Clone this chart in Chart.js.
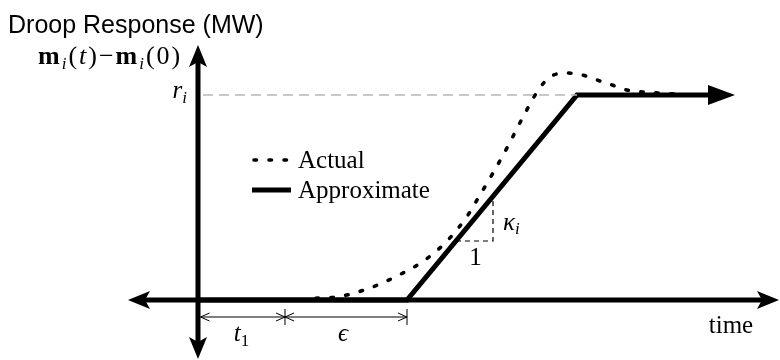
<!DOCTYPE html>
<html>
<head>
<meta charset="utf-8">
<script src="https://cdn.jsdelivr.net/npm/chart.js@4/dist/chart.umd.min.js"></script>
<style>
    html, body { margin: 0; padding: 0; background: #fff; }
    canvas { display: block; }
</style>
</head>
<body>
<canvas id="chart" width="780" height="360"></canvas>
<script>
// 實際下垂響應（虛線）
let actualX = [10.3, 12.2, 13.9, 16.9, 19.9, 22.7, 25.0, 27.0, 27.9, 29.5, 31.0, 32.5, 34.1, 35.2, 36.8, 38.4, 39.9, 41.4, 42.9, 44.5, 46.0, 47.7, 49.2];
let actualY = [0, 0.2, 0.3, 1.1, 2.4, 4.0, 6.0, 8.5, 10.0, 12.7, 15.4, 18.3, 21.1, 22.3, 22.7, 22.5, 22.0, 21.5, 21.0, 20.8, 20.7, 20.6, 20.5];

// 近似響應（折線）
let approxX = [0, 20.9, 37.9, 51.0];
let approxY = [0, 0, 20.5, 20.5];
let approxTip = 53.7;

// 參考值 r_i
let rLevel = 20.5;
let rLineX = [0.5, 37.9];

// 斜率三角形
let slopeX = [25.8, 29.5, 29.5];
let slopeY = [5.9, 5.9, 10.4];

// 時間區間 t1、ϵ
let spanEdges = [0, 8.7, 20.9];

// 座標軸範圍
let axisX = [-7.0, 58.1];
let axisY = [-5.9, 25.5];

const serif = '"Liberation Serif", "DejaVu Serif", serif';
const sans = '"Liberation Sans", Arial, sans-serif';

const toPoints = (xs, ys) => xs.map((x, i) => ({ x: x, y: ys[i] }));

// 畫一段含上下標的文字，parts: [文字, 字型, 垂直位移]
const drawRich = (ctx, parts, x, y, align, gap) => {
    gap = gap || 0;
    let widths = parts.map(p => {
        ctx.font = p[1];
        return ctx.measureText(p[0]).width;
    });
    let total = widths.reduce((a, b) => a + b, 0) + gap * (parts.length - 1);
    let cx = x;
    if (align == 'center') {
        cx = x - total / 2;
    } else if (align == 'right') {
        cx = x - total;
    }
    ctx.textAlign = 'left';
    ctx.textBaseline = 'alphabetic';
    parts.forEach((p, i) => {
        ctx.font = p[1];
        ctx.fillText(p[0], cx, y + (p[2] || 0));
        cx += widths[i] + gap;
    });
};

// 實心箭頭
const solidHead = (ctx, tx, ty, dx, dy, len, half, notch) => {
    let bx = tx - dx * len, by = ty - dy * len;
    let nx = -dy, ny = dx;
    ctx.beginPath();
    ctx.moveTo(tx, ty);
    ctx.lineTo(bx + nx * half, by + ny * half);
    ctx.lineTo(tx - dx * (len - notch), ty - dy * (len - notch));
    ctx.lineTo(bx - nx * half, by - ny * half);
    ctx.closePath();
    ctx.fill();
};

// 空心（開口）箭頭
const openHead = (ctx, tx, ty, dx, len, half) => {
    ctx.beginPath();
    ctx.moveTo(tx - dx * len, ty - half);
    ctx.lineTo(tx, ty);
    ctx.lineTo(tx - dx * len, ty + half);
    ctx.stroke();
};

const sketchPlugin = {
    id: 'sketch',
    beforeDatasetsDraw: (chart) => {
        let ctx = chart.ctx;
        let x = chart.scales.x, y = chart.scales.y;
        let x0 = x.getPixelForValue(0), y0 = y.getPixelForValue(0);
        let left = x.getPixelForValue(axisX[0]), right = x.getPixelForValue(axisX[1]);
        let top = y.getPixelForValue(axisY[1]), bottom = y.getPixelForValue(axisY[0]);
        ctx.save();
        ctx.strokeStyle = '#000';
        ctx.fillStyle = '#000';
        ctx.lineWidth = 5;
        ctx.lineCap = 'butt';
        ctx.beginPath();
        ctx.moveTo(left + 15, y0);
        ctx.lineTo(right - 15, y0);
        ctx.moveTo(x0, top + 15);
        ctx.lineTo(x0, bottom - 15);
        ctx.stroke();
        solidHead(ctx, left, y0, -1, 0, 22, 9, 5);
        solidHead(ctx, right, y0, 1, 0, 22, 9, 5);
        solidHead(ctx, x0, top, 0, -1, 22, 9, 5);
        solidHead(ctx, x0, bottom, 0, 1, 22, 9, 5);
        ctx.restore();
    },
    afterDatasetsDraw: (chart) => {
        let ctx = chart.ctx;
        let x = chart.scales.x, y = chart.scales.y;
        ctx.save();
        ctx.fillStyle = '#000';
        ctx.strokeStyle = '#000';

        // 近似線末端箭頭
        let last = approxX.length - 1;
        solidHead(ctx, x.getPixelForValue(approxTip), y.getPixelForValue(approxY[last]), 1, 0,
            x.getPixelForValue(approxTip) - x.getPixelForValue(approxX[last]), 10, 0);

        // 時間區間標示
        let dimY = y.getPixelForValue(0) + 17;
        ctx.lineWidth = 1;
        for (let i = 0; i < spanEdges.length - 1; i++) {
            let a = x.getPixelForValue(spanEdges[i]) + 2.5;
            let b = x.getPixelForValue(spanEdges[i + 1]);
            if (i > 0) {
                a = x.getPixelForValue(spanEdges[i]);
            }
            ctx.beginPath();
            ctx.moveTo(a, dimY);
            ctx.lineTo(b, dimY);
            ctx.stroke();
            openHead(ctx, a, dimY, -1, 9, 4);
            openHead(ctx, b, dimY, 1, 9, 4);
        }
        for (let i = 1; i < spanEdges.length; i++) {
            let p = x.getPixelForValue(spanEdges[i]);
            ctx.beginPath();
            ctx.moveTo(p, dimY - 8);
            ctx.lineTo(p, dimY + 8);
            ctx.stroke();
        }

        let mid1 = (x.getPixelForValue(spanEdges[0]) + x.getPixelForValue(spanEdges[1])) / 2;
        let mid2 = (x.getPixelForValue(spanEdges[1]) + x.getPixelForValue(spanEdges[2])) / 2;
        drawRich(ctx, [['t', 'italic 25px ' + serif], ['1', '17px ' + serif, 5]], mid1, dimY + 24, 'center');
        drawRich(ctx, [['ϵ', 'italic 25px ' + serif]], mid2 - 3, dimY + 24, 'center');

        // 斜率三角形標籤
        let triMid = (x.getPixelForValue(slopeX[0]) + x.getPixelForValue(slopeX[1])) / 2;
        let triBase = y.getPixelForValue(slopeY[0]);
        drawRich(ctx, [['1', '25px ' + serif]], triMid + 1, triBase + 24, 'center');
        let vMid = (y.getPixelForValue(slopeY[1]) + y.getPixelForValue(slopeY[2])) / 2;
        drawRich(ctx, [['κ', 'italic 25px ' + serif], ['i', 'italic 17px ' + serif, 4]],
            x.getPixelForValue(slopeX[1]) + 10, vMid + 11, 'left');

        // r_i
        drawRich(ctx, [['r', 'italic 25px ' + serif], ['i', 'italic 17px ' + serif, 5]],
            x.getPixelForValue(0) - 11, y.getPixelForValue(rLevel) + 3, 'right');

        // 座標軸標題
        drawRich(ctx, [['Droop Response (MW)', '25px ' + sans]], 8, 33, 'left');
        let bold = 'bold 26px ' + serif, up = '26px ' + serif, it = 'italic 26px ' + serif, sub = 'italic 17px ' + serif;
        drawRich(ctx, [['m', bold], ['i', sub, 5], ['(', up], ['t', it], [')', up], ['−', up],
            ['m', bold], ['i', sub, 5], ['(', up], ['0', up], [')', up]], 38, 64, 'left', 2);
        drawRich(ctx, [['time', '25px ' + serif]], 731, 333, 'center');

        // 圖例
        let items = chart.data.datasets.filter(d => d.inLegend);
        items.forEach((d, i) => {
            let ly = 160 + i * 30;
            ctx.save();
            ctx.strokeStyle = d.borderColor;
            ctx.lineWidth = d.borderWidth;
            ctx.lineCap = d.borderCapStyle || 'butt';
            ctx.setLineDash(d.borderDash || []);
            ctx.beginPath();
            ctx.moveTo(d.borderDash ? 254 : 252, ly);
            ctx.lineTo(291, ly);
            ctx.stroke();
            ctx.restore();
            drawRich(ctx, [[d.label, '25px ' + serif]], 298, ly + 8, 'left');
        });
        ctx.restore();
    }
};

let el = document.querySelector('#chart');
let chart = new Chart(el, {
    type: 'scatter',
    data: {
        datasets: [
            {
                label: 'r_i',
                data: toPoints(rLineX, [rLevel, rLevel]),
                showLine: true,
                borderColor: '#b8b8b8',
                borderWidth: 1.5,
                borderDash: [10, 6],
                pointRadius: 0
            },
            {
                label: 'Actual',
                inLegend: true,
                data: toPoints(actualX, actualY),
                showLine: true,
                borderColor: '#000',
                borderWidth: 3.6,
                borderDash: [2.5, 12.5],
                borderCapStyle: 'round',
                cubicInterpolationMode: 'monotone',
                pointRadius: 0
            },
            {
                label: 'Approximate',
                inLegend: true,
                data: toPoints(approxX, approxY),
                showLine: true,
                borderColor: '#000',
                borderWidth: 5,
                borderJoinStyle: 'miter',
                pointRadius: 0
            },
            {
                label: 'slope',
                data: toPoints(slopeX, slopeY),
                showLine: true,
                borderColor: '#000',
                borderWidth: 1.2,
                borderDash: [5, 4],
                pointRadius: 0
            }
        ]
    },
    options: {
        responsive: false,
        animation: false,
        layout: { padding: 0 },
        plugins: {
            legend: { display: false },
            tooltip: { enabled: false }
        },
        scales: {
            x: { type: 'linear', min: -19.8, max: 58.2, display: false },
            y: { type: 'linear', min: -6, max: 30, display: false }
        },
        elements: { line: { fill: false } },
        clip: false
    },
    plugins: [sketchPlugin]
});
</script>
</body>
</html>
